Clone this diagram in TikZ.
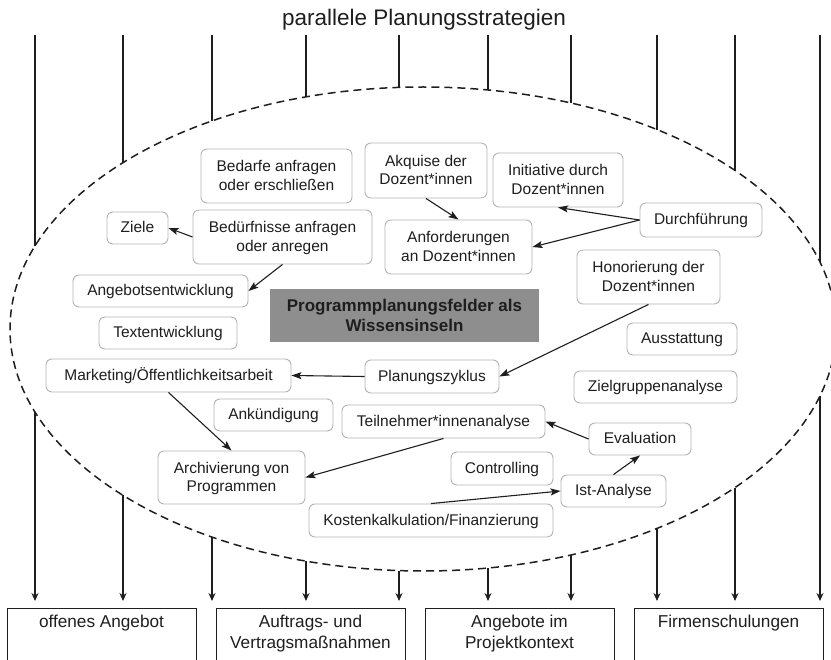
\documentclass[tikz,border=0pt]{standalone}
\usepackage{fontspec}
\setmainfont{Liberation Sans}
\usetikzlibrary{arrows.meta}
\definecolor{ink}{HTML}{1E1E1E}
\definecolor{boxline}{HTML}{B4B4B4}
\definecolor{islandfill}{HTML}{8E8E8E}
% strut that gives every text line the same height and depth
\newcommand\lstr{\rule[-4.25pt]{0pt}{18.5pt}}
\begin{document}
\begin{tikzpicture}[x=1pt,y=-1pt,
  field/.style={draw=boxline, line width=0.9pt, rounded corners=6pt, fill=white,
    text=ink, align=center, inner sep=0pt, font=\fontsize{15.5}{18.5}\selectfont},
  flow/.style={draw=ink, line width=1.1pt, -{Stealth[length=10pt,width=7pt,inset=2pt]}},
  strat/.style={draw=ink, line width=1.1pt},
  offer/.style={draw=ink, line width=1pt, inner sep=0pt, outer sep=0pt, anchor=north,
    text=ink, font=\fontsize{17.2}{21}\selectfont}
]
\useasboundingbox (0,0) rectangle (831,660);

% heading
\node[font=\fontsize{22.5}{26}\selectfont, text=ink, anchor=base] (title) at (424,26) {parallele Planungsstrategien};

% dashed outline of the planning field
\draw[ink, line width=1.5pt, dash pattern=on 8pt off 5pt] (423,329) ellipse [x radius=413pt, y radius=242pt];

% parallel strategy lines, interrupted by the planning field
\foreach \x [count=\i] in {35,123,212,306,399,488,571,657,735,820}{
  \pgfmathsetmacro\h{242*sqrt(1-((\x-423)/413)^2)}
  \coordinate (s\i) at (\x,35);
  \coordinate (u\i) at (\x,{329-\h});
  \coordinate (l\i) at (\x,{329+\h});
  \coordinate (t\i) at (\x,601);
  \draw[strat] (s\i) -- (u\i);
  \draw[strat, -{Stealth[length=8pt,width=7pt]}] (l\i) -- (t\i);
}

% offer types
\node[offer] (o1) at (101.5,608) {\parbox[t][52pt][t]{189pt}{\centering\rule{0pt}{19pt}offenes Angebot}};
\node[offer] (o2) at (310.5,608) {\parbox[t][52pt][t]{189pt}{\centering\rule{0pt}{19pt}Auftrags- und\\Vertragsmaßnahmen}};
\node[offer] (o3) at (519.5,608) {\parbox[t][52pt][t]{189pt}{\centering\rule{0pt}{19pt}Angebote im\\Projektkontext}};
\node[offer] (o4) at (728.5,608) {\parbox[t][52pt][t]{189pt}{\centering\rule{0pt}{19pt}Firmenschulungen}};

% central label
\node[fill=islandfill, minimum width=269, minimum height=53, inner sep=0pt, align=center,
  text=ink, font=\fontsize{17}{19.5}\selectfont\bfseries] (island) at (404.5,315.5)
  {Programmplanungsfelder als\\Wissensinseln};

% knowledge islands
\node[field, minimum width=151, minimum height=54] (bedarfe) at (276.5,176) {\lstr Bedarfe anfragen\\\lstr oder erschließen};
\node[field, minimum width=61, minimum height=32] (ziele) at (137.5,228) {\lstr Ziele};
\node[field, minimum width=179, minimum height=54] (beduerf) at (282.5,237) {\lstr Bedürfnisse anfragen\\\lstr oder anregen};
\node[field, minimum width=175, minimum height=32] (angebot) at (160.5,291) {\lstr Angebotsentwicklung};
\node[field, minimum width=138, minimum height=32] (textent) at (168,333) {\lstr Textentwicklung};
\node[field, minimum width=122, minimum height=55] (akquise) at (426,170.5) {\lstr Akquise der\\\lstr Dozent*innen};
\node[field, minimum width=130, minimum height=54] (initiative) at (558,180) {\lstr Initiative durch\\\lstr Dozent*innen};
\node[field, minimum width=147, minimum height=54] (anford) at (458.5,247) {\lstr Anforderungen\\\lstr an Dozent*innen};
\node[field, minimum width=122, minimum height=34] (durch) at (701,220) {\lstr Durchführung};
\node[field, minimum width=143, minimum height=54] (honor) at (648.5,277) {\lstr Honorierung der\\\lstr Dozent*innen};
\node[field, minimum width=110, minimum height=32] (ausst) at (682,339) {\lstr Ausstattung};
\node[field, minimum width=245, minimum height=33] (marketing) at (168.5,375.5) {\lstr Marketing/Öffentlichkeitsarbeit};
\node[field, minimum width=119, minimum height=32] (ankuend) at (273.5,415) {\lstr Ankündigung};
\node[field, minimum width=203, minimum height=33] (teiln) at (443.5,421.5) {\lstr Teilnehmer*innenanalyse};
\node[field, minimum width=147, minimum height=53] (archiv) at (231.5,477.5) {\lstr Archivierung von\\\lstr Programmen};
\node[field, minimum width=244, minimum height=33] (kosten) at (431,520.5) {\lstr Kostenkalkulation/Finanzierung};
\node[field, minimum width=134, minimum height=33] (planung) at (432,376.5) {\lstr Planungszyklus};
\node[field, minimum width=163, minimum height=32] (zielgr) at (655.5,387) {\lstr Zielgruppenanalyse};
\node[field, minimum width=102, minimum height=32] (eval) at (640,439) {\lstr Evaluation};
\node[field, minimum width=102, minimum height=33] (controlling) at (502,468.5) {\lstr Controlling};
\node[field, minimum width=105, minimum height=32] (ist) at (613.5,491) {\lstr Ist-Analyse};

% relations between islands
\draw[flow] (beduerf.west) -- (ziele.east);
\draw[flow] (beduerf.south) -- (angebot.east);
\draw[flow] (akquise.south) -- (anford.north);
\draw[flow] (durch.west) -- (initiative.south);
\draw[flow] (durch.west) -- (anford.east);
\draw[flow] (honor.south) -- (planung.east);
\draw[flow] (planung.west) -- (marketing.east);
\draw[flow] (marketing.south) -- (archiv.north);
\draw[flow] (teiln.south) -- (archiv.east);
\draw[flow] (eval.west) -- (teiln.east);
\draw[flow] (ist.north) -- (eval.south);
\draw[flow] (kosten.north) -- (ist.west);
\end{tikzpicture}
\end{document}
